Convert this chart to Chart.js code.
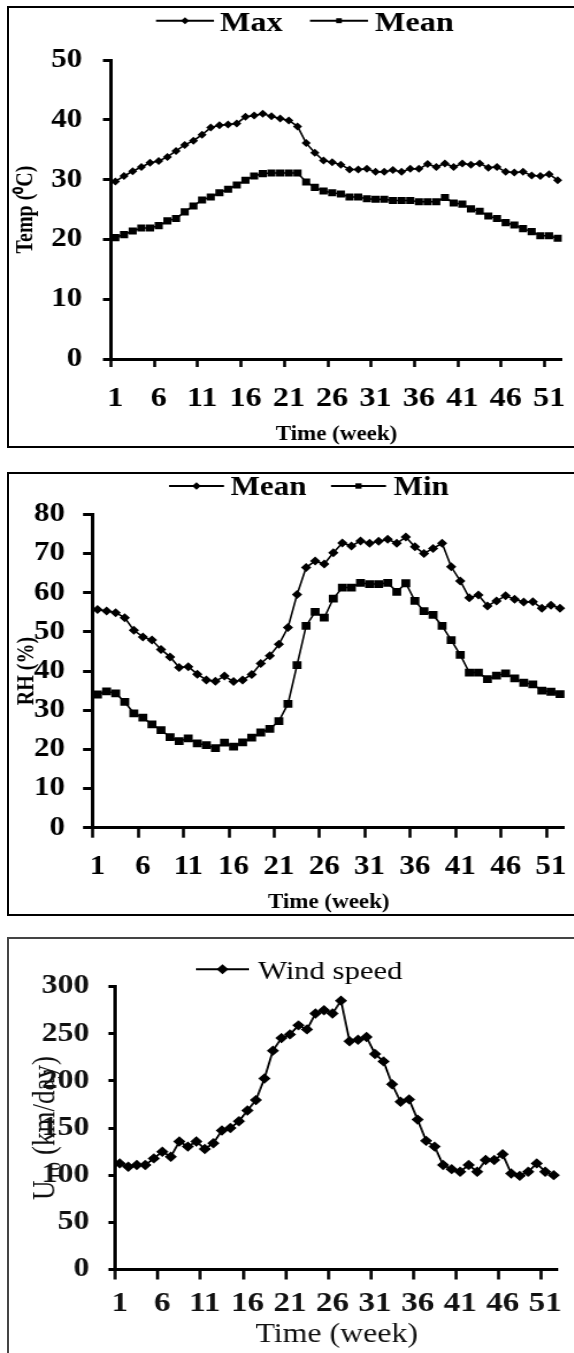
<!DOCTYPE html>
<html>
<head>
<meta charset="utf-8">
<script src="https://cdn.jsdelivr.net/npm/chart.js@4.4.1/dist/chart.umd.min.js"></script>
<style>
  html, body { margin: 0; padding: 0; background: #fff; }
  body { width: 574px; height: 1353px; overflow: hidden; position: relative; }
  .box { position: absolute; left: 7px; width: 700px; box-sizing: border-box; border: 2px solid #000; }
  canvas { position: absolute; left: 0; transform-origin: 0 0; }
</style>
</head>
<body>
<div class="box" style="top:6px;height:442px"></div>
<div class="box" style="top:472px;height:444px"></div>
<div class="box" style="top:937px;height:500px;border-color:#444"></div>
<canvas id="temp" width="500" height="450" style="top:0"></canvas>
<canvas id="rh" width="500" height="460" style="top:460px"></canvas>
<canvas id="wind" width="487" height="423" style="top:930px"></canvas>
<script>
// week categories and the week labels that are shown on the x axis
const weeks = ['1','2','3','4','5','6','7','8','9','10','11','12','13','14','15','16','17','18','19','20',
  '21','22','23','24','25','26','27','28','29','30','31','32','33','34','35','36','37','38','39','40',
  '41','42','43','44','45','46','47','48','49','50','51','52'];
const xTickLabels = ['1','6','11','16','21','26','31','36','41','46','51'];

// temperature (deg C)
const tempMax = [29.7,30.6,31.4,32.1,32.8,33.1,33.8,34.8,35.8,36.5,
  37.5,38.7,39.1,39.2,39.4,40.5,40.7,41.0,40.6,40.2,
  39.9,38.9,36.1,34.5,33.2,32.9,32.5,31.7,31.7,31.8,
  31.3,31.3,31.6,31.3,31.8,31.8,32.6,32.1,32.7,32.1,
  32.7,32.5,32.7,32.0,32.1,31.3,31.2,31.3,30.7,30.6,30.9,29.9];
const tempMean = [20.3,20.8,21.4,21.9,21.9,22.3,23.1,23.5,24.6,25.6,
  26.6,27.1,27.8,28.4,29.1,29.9,30.6,31.0,31.1,31.1,
  31.1,31.1,29.6,28.7,28.1,27.8,27.6,27.1,27.1,26.8,
  26.7,26.7,26.5,26.5,26.5,26.3,26.3,26.3,27.0,26.1,
  25.9,25.1,24.7,23.9,23.5,22.8,22.4,21.8,21.3,20.6,20.6,20.2];
const tempTicks = [0, 10, 20, 30, 40, 50];

// relative humidity (%)
const rhMean = [55.7,55.3,54.9,53.6,50.4,48.7,47.9,45.5,43.6,40.9,
  41.1,39.2,37.7,37.4,38.7,37.3,37.7,39.1,41.9,43.9,
  46.8,51.1,59.5,66.4,68.1,67.3,70.2,72.7,71.9,73.2,
  72.6,73.1,73.6,72.6,74.2,71.7,70.0,71.3,72.6,66.6,
  63.0,58.7,59.4,56.6,57.9,59.2,58.3,57.6,57.7,56.0,56.8,56.0];
const rhMin = [34.0,34.8,34.3,32.1,29.2,28.1,26.4,24.9,23.1,22.1,
  22.8,21.5,21.1,20.3,21.7,20.7,21.8,23.0,24.3,25.2,
  27.2,31.6,41.5,51.5,55.1,53.6,58.5,61.3,61.3,62.5,
  62.2,62.2,62.5,60.2,62.4,57.9,55.3,54.3,51.5,47.9,
  44.1,39.6,39.6,37.9,38.8,39.4,38.1,37.0,36.6,35.0,34.7,34.1];
const rhTicks = [0, 10, 20, 30, 40, 50, 60, 70, 80];

// wind speed (km/day)
const windSpeed = [112.5,108.9,110.7,110.7,117.8,124.9,119.6,135.7,130.3,135.7,
  127.8,133.9,147.4,150.0,157.1,168.5,179.6,202.5,232.0,245.3,
  249.2,258.8,254.5,271.3,274.9,271.3,285.0,242.0,243.5,246.4,
  228.5,220.6,196.4,177.8,180.3,158.9,136.4,130.3,110.7,106.4,
  103.6,110.7,103.6,116.1,116.1,122.1,101.8,99.3,103.6,112.5,103.6,100.0];
const windTicks = [0, 50, 100, 150, 200, 250, 300];

const FONT = "'Liberation Serif', 'Times New Roman', serif";

// legend: short line with the marker in its middle, then the label
function makeLegend(g) {
  return {
    id: 'lineLegend',
    afterDraw(chart) {
      const ctx = chart.ctx;
      const lg = g.legend;
      ctx.save();
      ctx.font = lg.font;
      ctx.fillStyle = '#000';
      ctx.strokeStyle = '#000';
      ctx.textBaseline = 'alphabetic';
      chart.data.datasets.forEach((ds, i) => {
        const it = lg.items[i];
        const x0 = it.x0 / g.S, x1 = it.x1 / g.S;
        ctx.lineWidth = 2;
        ctx.beginPath();
        ctx.moveTo(x0, lg.y);
        ctx.lineTo(x1, lg.y);
        ctx.stroke();
        Chart.helpers.drawPoint(ctx, { pointStyle: ds.pointStyle, radius: lg.radius, rotation: 0, borderWidth: 0 },
          (x0 + x1) / 2, lg.y);
        ctx.fillText(ds.label, it.tx / g.S, lg.baseline);
      });
      ctx.restore();
    }
  };
}

function buildChart(id, g, datasets) {
  const canvas = document.getElementById(id);
  canvas.style.transform = 'scaleX(' + g.S + ')';
  const W = canvas.width;
  return new Chart(canvas, {
    type: 'line',
    data: { labels: weeks, datasets: datasets },
    options: {
      responsive: false,
      animation: false,
      devicePixelRatio: 1,
      layout: { padding: { left: 0, top: g.plotTop, right: W - g.plotRight / g.S, bottom: 0 } },
      plugins: { legend: { display: false }, tooltip: { enabled: false } },
      scales: {
        x: {
          type: 'category',
          offset: true,
          border: { display: true, color: '#000', width: 3 },
          grid: {
            display: true, drawOnChartArea: false, drawTicks: true, offset: true,
            tickLength: g.xTickLen, tickWidth: 2.6,
            tickColor: c => xTickLabels.includes(weeks[c.index]) ? '#000' : 'rgba(0,0,0,0)'
          },
          ticks: {
            autoSkip: false, maxRotation: 0, minRotation: 0,
            padding: g.xPad, color: g.textColor,
            font: { family: FONT, size: g.xFont, weight: 'bold' },
            callback: function (v) {
              const l = this.getLabelForValue(v);
              return xTickLabels.includes(l) ? l : '';
            }
          },
          title: {
            display: true, text: 'Time (week)', color: g.textColor,
            font: { family: FONT, size: g.xTitleFont, weight: g.titleWeight },
            padding: { top: 0, bottom: g.xTitlePad }
          },
          afterFit: s => { s.height = g.xHeight; }
        },
        y: {
          type: 'linear',
          min: g.yTicks[0],
          max: g.yTicks[g.yTicks.length - 1],
          afterBuildTicks: s => { s.ticks = g.yTicks.map(v => ({ value: v })); },
          border: { display: true, color: '#000', width: 3 },
          grid: { display: true, drawOnChartArea: false, drawTicks: true, tickLength: g.yTickLen, tickWidth: 3, tickColor: '#000' },
          ticks: {
            padding: g.yPad, color: g.textColor,
            font: { family: FONT, size: g.yFont, weight: 'bold' }
          },
          title: {
            display: true, text: g.yTitle, color: g.textColor,
            font: { family: FONT, size: g.yTitleFont, weight: g.titleWeight },
            padding: { top: g.yTitlePad, bottom: 0 }
          },
          afterFit: s => { s.width = g.yWidth; }
        }
      }
    },
    plugins: [makeLegend(g)]
  });
}

function series(label, data, style, radius, width) {
  return {
    label: label, data: data,
    borderColor: '#000', backgroundColor: '#000', borderWidth: width || 1.6,
    pointStyle: style, pointRadius: radius, pointBorderWidth: 0, pointBackgroundColor: '#000',
    tension: 0
  };
}

// Temperature
buildChart('temp', {
  S: 1.15, plotTop: 60, plotRight: 573.5, yWidth: 111 / 1.15, xHeight: 91,
  xTickLen: 8, yTickLen: 7, xPad: 15, yPad: 18, xFont: 28, yFont: 27,
  xTitleFont: 20, xTitlePad: 3, yTitle: 'Temp (\u2070C)', yTitleFont: 20, yTitlePad: 10.6,
  titleWeight: 'bold', textColor: '#000', yTicks: tempTicks,
  legend: {
    font: 'bold 28px ' + FONT, y: 20.7, baseline: 30.7, radius: 3.5,
    items: [{ x0: 156, x1: 214, tx: 220 }, { x0: 310, x1: 368, tx: 375 }]
  }
}, [series('Max', tempMax, 'rectRot', 4), series('Mean', tempMean, 'rect', 5)]);

// Relative humidity
buildChart('rh', {
  S: 1.15, plotTop: 54.3, plotRight: 573, yWidth: 93 / 1.15, xHeight: 92.3,
  xTickLen: 10, yTickLen: 8.7, xPad: 13, yPad: 15.7, xFont: 27, yFont: 27,
  xTitleFont: 20, xTitlePad: 5, yTitle: 'RH (%)', yTitleFont: 20, yTitlePad: 11.5,
  titleWeight: 'bold', textColor: '#000', yTicks: rhTicks,
  legend: {
    font: 'bold 27px ' + FONT, y: 26, baseline: 35, radius: 3.8,
    items: [{ x0: 169, x1: 224, tx: 230.6 }, { x0: 331, x1: 386, tx: 393.5 }]
  }
}, [series('Mean', rhMean, 'rectRot', 4.5), series('Min', rhMin, 'rect', 5.5)]);

// Wind speed
buildChart('wind', {
  S: 1.18, plotTop: 56.5, plotRight: 558, yWidth: 115.5 / 1.18, xHeight: 83.5,
  xTickLen: 10, yTickLen: 6, xPad: 7.6, yPad: 16.2, xFont: 28, yFont: 27,
  xTitleFont: 27, xTitlePad: 2, yTitle: 'U\u2081\u2080 (km/day)', yTitleFont: 27, yTitlePad: 22.8,
  titleWeight: 'normal', textColor: '#111', yTicks: windTicks,
  legend: {
    font: '26px ' + FONT, y: 39.3, baseline: 49, radius: 5,
    items: [{ x0: 196, x1: 249, tx: 258 }]
  }
}, [series('Wind speed', windSpeed, 'rectRot', 5.2, 1.8)]);
</script>
</body>
</html>
